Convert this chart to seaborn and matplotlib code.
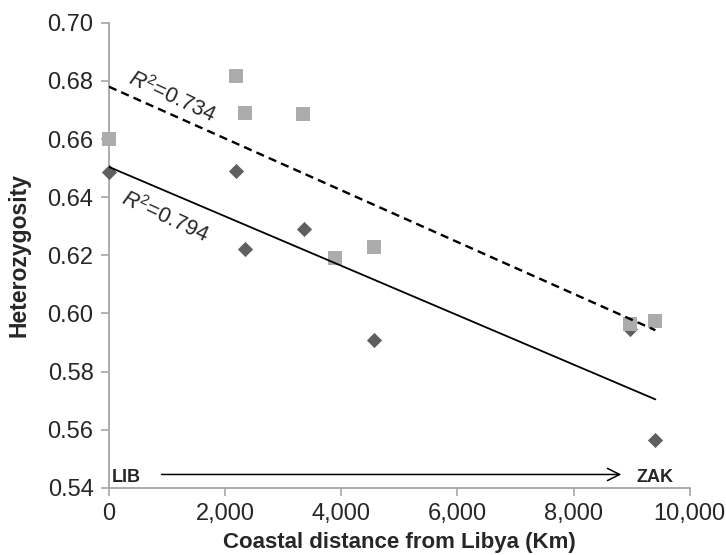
import matplotlib
matplotlib.use("Agg")
import matplotlib.pyplot as plt
import matplotlib.ticker as mticker
import seaborn as sns

# coastal distance from Libya (km) and heterozygosity, two marker sets
dist_diamond = [0, 2181, 2341, 3351, 4561, 8979, 9409]
het_diamond = [0.6487, 0.6491, 0.6220, 0.6292, 0.5908, 0.5945, 0.5566]

dist_square = [0, 2181, 2341, 3345, 3890, 4561, 8979, 9409]
het_square = [0.6600, 0.6817, 0.6690, 0.6685, 0.6192, 0.6229, 0.5963, 0.5974]

r2_diamond = "0.794"
r2_square = "0.734"

x_ticks = [0, 2000, 4000, 6000, 8000, 10000]
y_ticks = [0.54, 0.56, 0.58, 0.60, 0.62, 0.64, 0.66, 0.68, 0.70]

# style
sns.set_style("ticks")
plt.rcParams["font.family"] = ["Liberation Sans", "DejaVu Sans"]
plt.rcParams["mathtext.fontset"] = "custom"
plt.rcParams["mathtext.rm"] = "Liberation Sans"
plt.rcParams["mathtext.it"] = "Liberation Sans:italic"

axis_grey = "#a6a6a6"

fig, ax = plt.subplots(figsize=(7.26, 5.55), dpi=100)
fig.subplots_adjust(left=0.150, right=0.950, top=0.959, bottom=0.121)

# trend lines
sns.regplot(x=dist_diamond, y=het_diamond, ci=None, scatter=False, ax=ax,
            line_kws=dict(color="black", lw=1.3, zorder=4))
sns.regplot(x=dist_square, y=het_square, ci=None, scatter=False, ax=ax,
            line_kws=dict(color="black", lw=1.7, ls=(0, (3.5, 2.2)), zorder=4))

# points
sns.scatterplot(x=dist_diamond, y=het_diamond, marker="D", s=60, color="#5f5f5f",
                linewidth=0, clip_on=False, zorder=3, ax=ax)
sns.scatterplot(x=dist_square, y=het_square, marker="s", s=100, color="#acacac",
                linewidth=0, clip_on=False, zorder=3, ax=ax)

# axes
ax.set_xlim(0, 10000)
ax.set_ylim(0.54, 0.70)
ax.set_xticks(x_ticks)
ax.set_yticks(y_ticks)
ax.xaxis.set_major_formatter(mticker.StrMethodFormatter("{x:,.0f}"))
ax.yaxis.set_major_formatter(mticker.FormatStrFormatter("%.2f"))
ax.tick_params(direction="out", length=6, width=1.2, color=axis_grey,
               labelsize=17, pad=5)
sns.despine(ax=ax)
for side in ["left", "bottom"]:
    ax.spines[side].set_color(axis_grey)
    ax.spines[side].set_linewidth(1.3)

ax.set_xlabel("Coastal distance from Libya (Km)", fontsize=16,
              fontweight="bold", labelpad=5)
ax.set_ylabel("Heterozygosity", fontsize=16.5, fontweight="bold", labelpad=12)

# R squared labels
ax.text(1079, 0.6745, r"$R^2$=" + r2_square, rotation=-25, ha="center",
        va="center", fontsize=15.5, rotation_mode="anchor")
ax.text(964, 0.6332, r"$R^2$=" + r2_diamond, rotation=-25, ha="center",
        va="center", fontsize=15.5, rotation_mode="anchor")

# direction arrow
ax.annotate("", xy=(8823, 0.5446), xytext=(908, 0.5446),
            arrowprops=dict(arrowstyle="->", lw=1.1, color="black",
                            mutation_scale=22, shrinkA=0, shrinkB=0))
ax.text(52, 0.5419, "LIB", fontsize=13, fontweight="bold", va="baseline")
ax.text(9088, 0.5419, "ZAK", fontsize=13, fontweight="bold", va="baseline")

plt.savefig("out.png", dpi=100)
